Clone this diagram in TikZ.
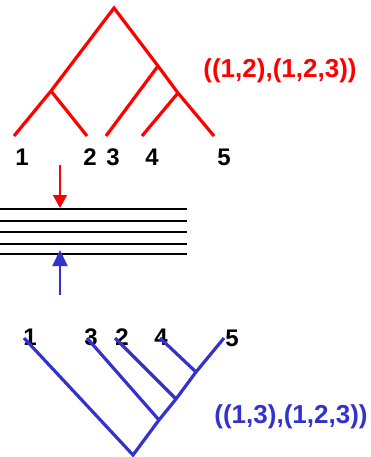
\documentclass[tikz,border=0pt]{standalone}
\usepackage{fontspec}
\setmainfont{Liberation Sans}
\usetikzlibrary{arrows.meta}
\definecolor{treered}{RGB}{255,0,0}
\definecolor{treeblue}{RGB}{51,51,204}
\begin{document}
\begin{tikzpicture}[x=1pt,y=-1pt,
  redtree/.style={draw=treered,line width=3.2pt,line join=miter},
  bluetree/.style={draw=treeblue,line width=3.2pt,line join=miter},
  leaflab/.style={inner sep=0pt,font=\fontsize{24}{24}\selectfont\bfseries},
  tuplelab/.style={inner sep=0pt,anchor=base,font=\fontsize{26}{26}\selectfont\bfseries},
  staff/.style={draw=black,line width=2pt}]
\useasboundingbox (0,0) rectangle (371,457);
% red tree
\coordinate (rroot) at (114,8);
\coordinate (r12) at (51,91);
\coordinate (r345) at (158,66);
\coordinate (r45) at (178,93);
\coordinate (rl1) at (14,136);
\coordinate (rl2) at (87,136);
\coordinate (rl3) at (106,136);
\coordinate (rl4) at (142,136);
\coordinate (rl5) at (214,136);
\draw[redtree] (rl1) -- (r12) -- (rroot) -- (r345) -- (r45) -- (rl5);
\draw[redtree] (r12) -- (rl2);
\draw[redtree] (r345) -- (rl3);
\draw[redtree] (r45) -- (rl4);
\node[leaflab] (ra) at (22,157) {1};
\node[leaflab] (rb) at (90,157) {2};
\node[leaflab] (rc) at (113,157) {3};
\node[leaflab] (rd) at (152,157) {4};
\node[leaflab] (re) at (224,157) {5};
\node[tuplelab,text=treered] (rt) at (280,78) {((1,2),(1,2,3))};
% staff lines
\foreach \i/\y in {1/209,2/221,3/232,4/244,5/254}{
  \coordinate (sl\i) at (0,\y);
  \coordinate (sr\i) at (187,\y);
  \draw[staff] (sl\i) -- (sr\i);
}
% arrows
\coordinate (ra0) at (60,165);
\coordinate (ra1) at (60,208);
\draw[draw=treered,line width=2pt,-{Triangle[width=14pt,length=13pt]}] (ra0) -- (ra1);
\coordinate (ba0) at (60,295);
\coordinate (ba1) at (60,250);
\draw[draw=treeblue,line width=2pt,-{Triangle[width=15pt,length=16pt]}] (ba0) -- (ba1);
% blue tree
\node[leaflab] (ba) at (30,337) {1};
\node[leaflab] (bb) at (91,337) {3};
\node[leaflab] (bc) at (122,337) {2};
\node[leaflab] (bd) at (161,337) {4};
\node[leaflab] (be) at (232,338) {5};
\coordinate (broot) at (133,455);
\coordinate (b3) at (159,420);
\coordinate (b2) at (176,399);
\coordinate (b4) at (196,372);
\coordinate (bl1) at (24,338);
\coordinate (bl3) at (87,338);
\coordinate (bl2) at (115,338);
\coordinate (bl4) at (160,338);
\coordinate (bl5) at (224,338);
\draw[bluetree] (bl1) -- (broot) -- (b3) -- (b2) -- (b4) -- (bl5);
\draw[bluetree] (b3) -- (bl3);
\draw[bluetree] (b2) -- (bl2);
\draw[bluetree] (b4) -- (bl4);
\node[tuplelab,text=treeblue] (bt) at (291,423) {((1,3),(1,2,3))};
\end{tikzpicture}
\end{document}
